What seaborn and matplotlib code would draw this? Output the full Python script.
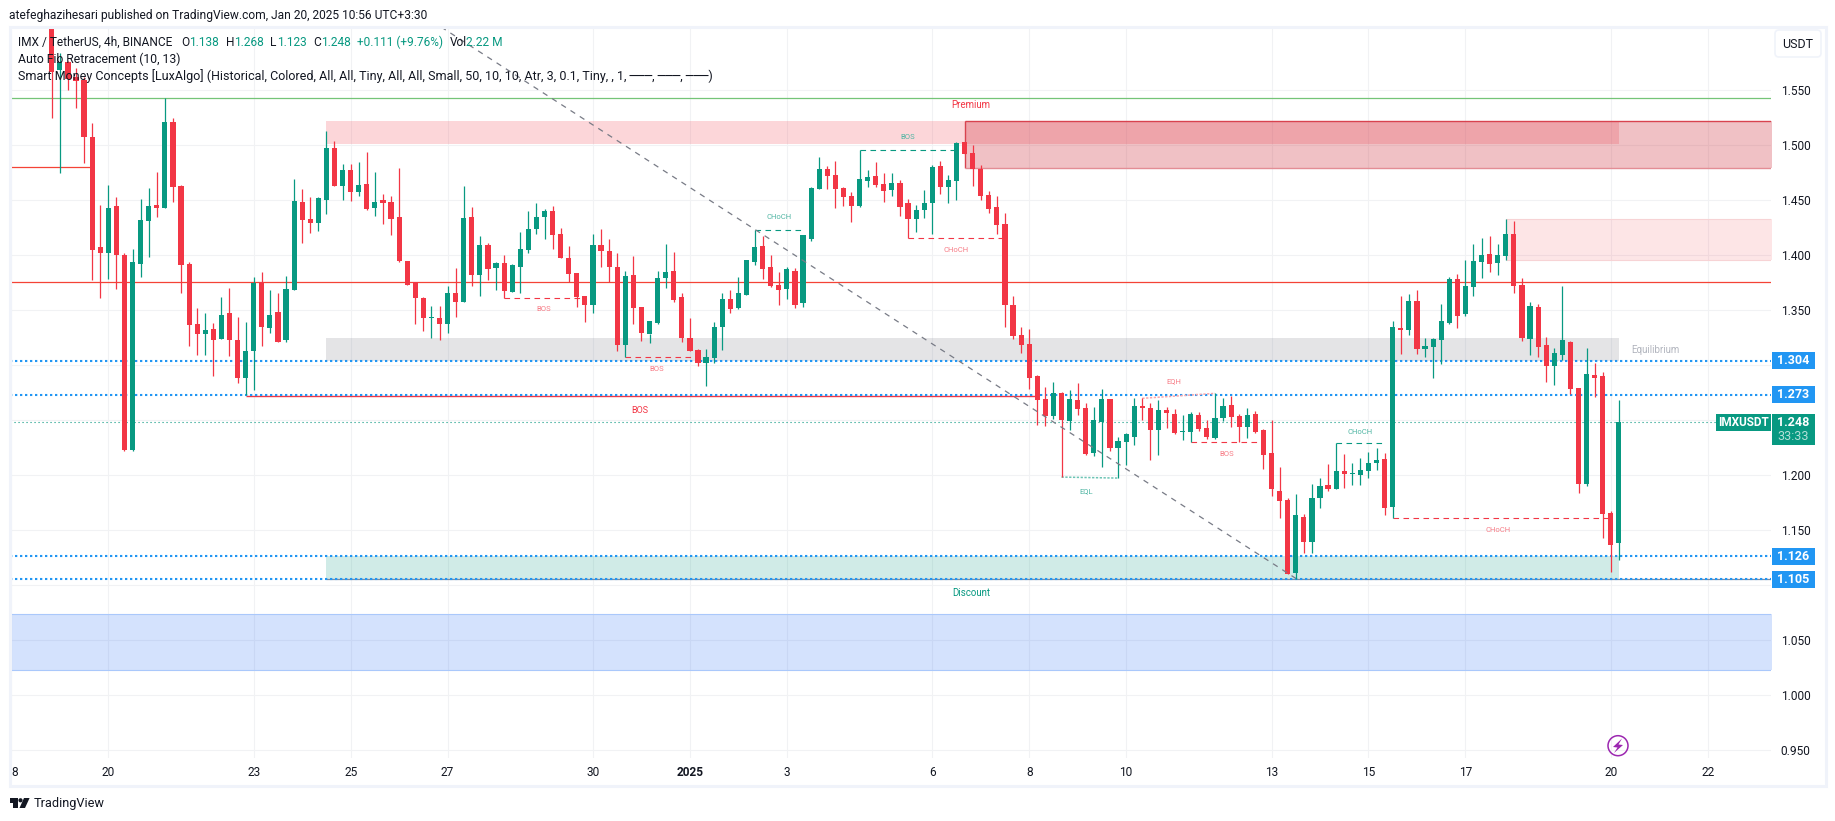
import numpy as np
import pandas as pd
import matplotlib.pyplot as plt
import seaborn as sns
from matplotlib.patches import Rectangle, Circle, Polygon, FancyBboxPatch
from matplotlib.transforms import IdentityTransform

#%%
# candles, 4h bars counted from Dec 20 00:00
first_bar = -7
open_px = [1.6200,1.5682,1.5752,1.5621,1.5591,1.5073,1.4073,
    1.4018,1.4446,1.3999,1.2227,1.3918,1.4309,1.4455,1.4427,1.5209,1.4627,
    1.3918,1.3373,1.3282,1.3327,1.3236,1.3473,1.3227,1.2882,1.3127,1.3755,
    1.3336,1.3482,1.3227,1.3682,1.4482,1.4327,1.4291,1.4500,1.4973,1.4627,
    1.4773,1.4573,1.4645,1.4427,1.4500,1.4482,1.4345,1.3945,1.3755,1.3609,
    1.3427,1.3427,1.3373,1.3655,1.3573,1.4345,1.3818,1.4091,1.3882,1.3927,
    1.3664,1.3891,1.4045,1.4236,1.4345,1.4400,1.4191,1.3973,1.3836,1.3627,
    1.3545,1.4091,1.4036,1.3891,1.3182,1.3818,1.3527,1.3282,1.3382,1.3791,
    1.3854,1.3618,1.3245,1.3136,1.3018,1.3064,1.3345,1.3600,1.3518,1.3636,
    1.3936,1.4082,1.3891,1.3727,1.3691,1.3854,1.3564,1.4145,1.4600,1.4782,
    1.4727,1.4609,1.4536,1.4445,1.4673,1.4718,1.4645,1.4591,1.4654,1.4473,
    1.4327,1.4409,1.4473,1.4809,1.4618,1.4673,1.5027,1.4927,1.4782,1.4545,
    1.4436,1.4282,1.3546,1.3273,1.3191,1.2900,1.2691,1.2536,1.2745,1.2491,
    1.2682,1.2609,1.2200,1.2482,1.2691,1.2245,1.2300,1.2345,1.2627,1.2609,
    1.2409,1.2591,1.2554,1.2391,1.2391,1.2545,1.2427,1.2336,1.2518,1.2636,
    1.2536,1.2436,1.2554,1.2409,1.2200,1.1854,1.1772,1.1109,1.1618,1.1391,
    1.1791,1.1909,1.1872,1.2036,1.2009,1.2000,1.2036,1.2109,1.2145,1.1709,
    1.3336,1.3318,1.3582,1.3145,1.3164,1.3227,1.3382,1.3782,1.3464,1.3709,
    1.3936,1.4009,1.3927,1.3991,1.4191,1.3727,1.3236,1.3527,1.3182,1.2991,
    1.3091,1.3209,1.2791,1.1918,1.2909,1.2900,1.1655,1.1380]
high_px = [1.6300,1.5833,1.5764,1.5697,1.5621,1.5200,1.4455,
    1.4636,1.4527,1.4018,1.4055,1.4509,1.4609,1.4755,1.5424,1.5246,1.4636,
    1.3936,1.3518,1.3473,1.3382,1.3618,1.3700,1.3436,1.3391,1.3800,1.3845,
    1.3682,1.3655,1.3809,1.4691,1.4600,1.4527,1.4527,1.5127,1.5036,1.4827,
    1.4827,1.4845,1.4936,1.4754,1.4554,1.4536,1.4791,1.3945,1.3755,1.3618,
    1.3536,1.3536,1.3718,1.3882,1.4627,1.4436,1.4173,1.4109,1.3936,1.4000,
    1.3918,1.4209,1.4400,1.4473,1.4418,1.4445,1.4245,1.4082,1.3836,1.3627,
    1.4191,1.4236,1.4145,1.4018,1.3855,1.3991,1.3527,1.3282,1.3855,1.4100,
    1.4027,1.3654,1.3427,1.3145,1.3145,1.3391,1.3654,1.3682,1.3800,1.3955,
    1.4227,1.4173,1.4000,1.3845,1.3891,1.3882,1.4182,1.4618,1.4891,1.4809,
    1.4855,1.4618,1.4573,1.4954,1.4773,1.4845,1.4745,1.4745,1.4682,1.4509,
    1.4454,1.4591,1.4818,1.4855,1.4727,1.5027,1.5027,1.5000,1.4818,1.4582,
    1.4536,1.4382,1.3628,1.3346,1.3327,1.2909,1.2800,1.2845,1.2754,1.2773,
    1.2836,1.2654,1.2618,1.2781,1.2691,1.2345,1.2381,1.2700,1.2700,1.2654,
    1.2682,1.2618,1.2600,1.2545,1.2572,1.2572,1.2500,1.2745,1.2700,1.2718,
    1.2554,1.2609,1.2582,1.2418,1.2500,1.2072,1.1791,1.1827,1.1645,1.1918,
    1.1972,1.2100,1.2288,1.2191,1.2109,1.2154,1.2209,1.2245,1.2200,1.3400,
    1.3627,1.3645,1.3682,1.3245,1.3245,1.3555,1.3800,1.3827,1.3955,1.4100,
    1.4155,1.4173,1.4100,1.4327,1.4309,1.3791,1.3573,1.3555,1.3255,1.3155,
    1.3718,1.3218,1.2791,1.3155,1.3018,1.2936,1.1673,1.2680]
low_px = [1.5248,1.4748,1.5500,1.5339,1.4839,1.3773,1.3609,
    1.3782,1.3691,1.2218,1.2218,1.3800,1.3982,1.4346,1.4427,1.4482,1.3655,
    1.3173,1.3091,1.3091,1.2900,1.3236,1.3082,1.2836,1.2727,1.2773,1.3173,
    1.3291,1.3209,1.3209,1.3682,1.4109,1.4200,1.4218,1.4373,1.4627,1.4500,
    1.4491,1.4536,1.4409,1.4354,1.4282,1.4182,1.3936,1.3727,1.3373,1.3309,
    1.3245,1.3227,1.3291,1.3436,1.3573,1.3718,1.3627,1.3773,1.3682,1.3612,
    1.3664,1.3654,1.4018,1.4191,1.4145,1.4054,1.3973,1.3754,1.3527,1.3391,
    1.3473,1.3891,1.3754,1.3127,1.3073,1.3373,1.3218,1.3200,1.3373,1.3700,
    1.3573,1.3209,1.3127,1.2991,1.2809,1.3018,1.3136,1.3473,1.3509,1.3636,
    1.3909,1.3782,1.3709,1.3545,1.3600,1.3518,1.3527,1.4127,1.4600,1.4600,
    1.4427,1.4445,1.4300,1.4436,1.4618,1.4618,1.4482,1.4536,1.4354,1.4151,
    1.4209,1.4336,1.4191,1.4554,1.4473,1.4500,1.4918,1.4627,1.4500,1.4382,
    1.4191,1.3346,1.3237,1.3109,1.2781,1.2454,1.2445,1.2509,1.1981,1.2409,
    1.2545,1.2182,1.2172,1.2072,1.2218,1.1972,1.2091,1.2272,1.2500,1.2136,
    1.2182,1.2427,1.2372,1.2318,1.2297,1.2400,1.2327,1.2327,1.2491,1.2436,
    1.2297,1.2336,1.2382,1.2054,1.1809,1.1609,1.1100,1.1051,1.1291,1.1291,
    1.1700,1.1854,1.1872,1.1881,1.1909,1.1909,1.1972,1.2045,1.1636,1.1606,
    1.3100,1.3273,1.3100,1.3073,1.2882,1.3009,1.3373,1.3336,1.3445,1.3627,
    1.3791,1.3845,1.3818,1.3955,1.3655,1.3218,1.3091,1.3073,1.2845,1.2818,
    1.3045,1.2736,1.1836,1.1900,1.2709,1.1427,1.1118,1.1230]
close_px = [1.5666,1.5752,1.5600,1.5585,1.5073,1.4046,1.4018,
    1.4427,1.3999,1.2227,1.3936,1.4318,1.4446,1.4427,1.5209,1.4618,1.3909,
    1.3364,1.3282,1.3318,1.3227,1.3455,1.3227,1.2882,1.3127,1.3746,1.3346,
    1.3455,1.3209,1.3691,1.4491,1.4318,1.4291,1.4518,1.4973,1.4627,1.4773,
    1.4573,1.4636,1.4418,1.4482,1.4473,1.4327,1.3945,1.3727,1.3609,1.3427,
    1.3436,1.3373,1.3655,1.3573,1.4336,1.3818,1.4091,1.3873,1.3927,1.3673,
    1.3909,1.4055,1.4236,1.4345,1.4400,1.4182,1.3973,1.3827,1.3618,1.3545,
    1.4091,1.4036,1.3891,1.3182,1.3809,1.3518,1.3291,1.3400,1.3791,1.3845,
    1.3591,1.3245,1.3127,1.3018,1.3073,1.3345,1.3600,1.3509,1.3654,1.3955,
    1.4073,1.3873,1.3718,1.3682,1.3873,1.3545,1.4182,1.4609,1.4782,1.4718,
    1.4600,1.4527,1.4445,1.4691,1.4709,1.4636,1.4582,1.4654,1.4436,1.4327,
    1.4409,1.4473,1.4800,1.4618,1.4682,1.5018,1.4918,1.4782,1.4536,1.4418,
    1.4273,1.3546,1.3264,1.3182,1.2882,1.2682,1.2536,1.2745,1.2500,1.2691,
    1.2600,1.2191,1.2500,1.2691,1.2245,1.2309,1.2372,1.2627,1.2609,1.2409,
    1.2591,1.2563,1.2381,1.2400,1.2554,1.2418,1.2345,1.2518,1.2627,1.2527,
    1.2436,1.2545,1.2391,1.2182,1.1873,1.1763,1.1100,1.1636,1.1391,1.1791,
    1.1900,1.1872,1.2036,1.2009,1.2018,1.2045,1.2109,1.2136,1.1700,1.3345,
    1.3318,1.3582,1.3145,1.3173,1.3236,1.3400,1.3782,1.3445,1.3718,1.3945,
    1.4000,1.3918,1.4000,1.4191,1.3718,1.3245,1.3536,1.3164,1.2991,1.3109,
    1.3227,1.2782,1.1918,1.2918,1.2882,1.1645,1.1364,1.2480]

# levels across the whole pane
blue_levels = [1.304, 1.273, 1.126, 1.105]
blue_labels = ["1.304", "1.273", "1.126", "1.105"]
last_price = 1.248
green_level = 1.5425
red_level = 1.3752

# zones: first bar, last bar, top, bottom
premium_zone = [27, 187, 1.5218, 1.5012]
equilibrium_zone = [27, 187, 1.3245, 1.3036]
discount_zone = [27, 187, 1.1264, 1.1052]
block_top = [106, 206, 1.5218, 1.4794]
block_mid = [173, 206, 1.4327, 1.3957]
block_low = [-13, 206, 1.0733, 1.0224]

# market structure: first bar, last bar, price
red_breaks = [[49, 59, 1.3612], [64, 73, 1.3070], [99, 111, 1.4151], [134, 143, 1.2297], [159, 186, 1.1606]]
green_breaks = [[80, 86, 1.4224], [93, 105, 1.4951], [152, 158, 1.2288]]
# bar, price, text
red_marks = [[53.9, 1.3506, "BOS"], [67.9, 1.2960, "BOS"], [105, 1.4048, "CHoCH"], [138.5, 1.2187, "BOS"], [172, 1.1497, "CHoCH"], [131.9, 1.2857, "EQH"]]
green_marks = [[83, 1.4342, "CHoCH"], [99, 1.5070, "BOS"], [155, 1.2394, "CHoCH"], [121, 1.1857, "EQL"]]

y_ticks = [0.95, 1.00, 1.05, 1.10, 1.15, 1.20, 1.25, 1.30, 1.35, 1.40, 1.45, 1.50, 1.55]
# the tags cover these three on the price scale
y_labels = ["0.950", "1.000", "1.050", "", "1.150", "1.200", "", "", "1.350", "1.400", "1.450", "1.500", "1.550"]
x_ticks = [-12, 0, 18, 30, 42, 60, 72, 84, 102, 114, 126, 144, 156, 168, 186, 198]
x_labels = ["8", "20", "23", "25", "27", "30", "2025", "3", "6", "8", "10", "13", "15", "17", "20", "22"]

#%%
RED = "#f23645"
GREEN = "#089981"
BLUE = "#2196f3"
INK = "#131722"
EDGE = "#f0f3fa"

sns.set_style("white")
plt.rcParams['font.family'] = ['Roboto', 'DejaVu Sans']
plt.rcParams['lines.solid_capstyle'] = 'butt'

df = pd.DataFrame({"open": open_px, "high": high_px, "low": low_px, "close": close_px})
df["bar"] = np.arange(len(df)) + first_bar
df["side"] = np.where(df["close"] >= df["open"], "up", "down")
wicks = df.melt(id_vars=["bar", "side"], value_vars=["high", "low"], value_name="price")

W, H = 1835, 821
fig = plt.figure(figsize=(W / 100, H / 100), dpi=100)
ax = fig.add_axes([10 / W, 1 - 758 / H, 1761 / W, 731 / H])

sns.lineplot(data=wicks, x="bar", y="price", hue="side", units="bar", estimator=None, sort=False,
             palette={"up": GREEN, "down": RED}, legend=False, linewidth=0.9, zorder=3, ax=ax)
colors = df["side"].map({"up": GREEN, "down": RED})
ax.bar(df["bar"], (df["close"] - df["open"]).abs(), bottom=df[["open", "close"]].min(axis=1),
       width=0.64, color=colors, linewidth=0, zorder=3.1)

# zones
ax.fill_between(premium_zone[:2], premium_zone[3], premium_zone[2], color=RED, alpha=0.2, lw=0, zorder=1)
ax.fill_between(equilibrium_zone[:2], equilibrium_zone[3], equilibrium_zone[2], color="#787b86", alpha=0.2, lw=0, zorder=1)
ax.fill_between(discount_zone[:2], discount_zone[3], discount_zone[2], color=GREEN, alpha=0.19, lw=0, zorder=1)
ax.fill_between(block_top[:2], block_top[3], block_top[2], color="#cf3240", alpha=0.3, lw=0, zorder=1)
ax.fill_between(block_mid[:2], block_mid[3], block_mid[2], color=RED, alpha=0.13, lw=0, zorder=1)
ax.fill_between(block_low[:2], block_low[3], block_low[2], color="#2a6ef5", alpha=0.2, lw=0, zorder=1)

ax.plot([block_top[0], block_top[0]], block_top[2:], color="#d8434f", lw=1, zorder=1.5)
ax.plot(block_top[:2], [block_top[2], block_top[2]], color="#d8434f", lw=1, zorder=1.5)
ax.plot(block_top[:2], [block_top[3], block_top[3]], color="#e38d95", lw=1, zorder=1.5)
ax.plot(block_mid[:2], [block_mid[2], block_mid[2]], color="#f7d3d5", lw=0.8, zorder=1.5)
ax.plot(block_mid[:2], [block_mid[3], block_mid[3]], color="#f7d3d5", lw=0.8, zorder=1.5)
ax.plot(block_low[:2], [block_low[2], block_low[2]], color="#aac8fb", lw=0.8, zorder=1.5)
ax.plot(block_low[:2], [block_low[3], block_low[3]], color="#aac8fb", lw=0.8, zorder=1.5)

# long lines
ax.axhline(green_level, color="#74c477", lw=0.9, zorder=2)
ax.axhline(red_level, color="#f44336", lw=0.9, zorder=2)
ax.plot([-13, -2], [1.4797, 1.4797], color="#f44336", lw=0.9, zorder=2)
ax.plot([27, 206], [1.1052, 1.1052], color="#7d8aa3", lw=0.9, zorder=2)
ax.plot([17, 115], [1.2722, 1.2722], color=RED, lw=1, zorder=2)
for lv in blue_levels:
    ax.axhline(lv, color=BLUE, lw=1.5, linestyle=(0, (1.1, 1.3)), zorder=2.5)
ax.axhline(last_price, color=GREEN, lw=0.8, linestyle=(0, (1, 2.6)), zorder=2.5)

# fib trend line
ax.plot([41.2, 147], [1.6073, 1.1060], color="#787b86", lw=0.9, linestyle=(0, (4.4, 4.4)), zorder=4)

for a, b, p in red_breaks:
    ax.plot([a, b], [p, p], color=RED, lw=0.8, linestyle=(0, (5, 4)), zorder=2.5)
for a, b, p in green_breaks:
    ax.plot([a, b], [p, p], color=GREEN, lw=0.8, linestyle=(0, (5, 4)), zorder=2.5)
ax.plot([128, 137], [1.2697, 1.2742], color="#f9a6ac", lw=1.1, linestyle=(0, (1.5, 1)), zorder=2.5)
ax.plot([118, 125], [1.1981, 1.1972], color="#6cc4b4", lw=1.1, linestyle=(0, (1.5, 1)), zorder=2.5)

for b, p, t in red_marks:
    ax.text(b, p, t, color="#f77c86", fontsize=5.5, ha="center", va="center", zorder=5)
for b, p, t in green_marks:
    ax.text(b, p, t, color="#4fb5a3", fontsize=5.5, ha="center", va="center", zorder=5)
ax.text(65.8, 1.2582, "BOS", color=RED, fontsize=6.5, ha="center", va="center", zorder=5)
ax.text(106.8, 1.5364, "Premium", color=RED, fontsize=7, ha="center", va="center", zorder=5)
ax.text(106.8, 1.0927, "Discount", color=GREEN, fontsize=7, ha="center", va="center", zorder=5)
ax.text(191.5, 1.3139, "Equilibrium", color="#b2b5be", fontsize=7, ha="center", va="center", zorder=5)

# axes
ax.set_xlim(-12.17, 205.83)
ax.set_ylim(0.9427, 1.6073)
ax.yaxis.tick_right()
ax.set_yticks(y_ticks, y_labels)
ax.set_xticks(x_ticks, x_labels)
ax.tick_params(axis="y", length=0, pad=7, labelsize=8.6, labelcolor=INK)
ax.tick_params(axis="x", length=0, pad=6, labelsize=8.6, labelcolor=INK)
ax.set_xlabel("")
ax.set_ylabel("")
ax.get_xticklabels()[0].set_ha("left")
ax.get_xticklabels()[6].set_fontweight("bold")
ax.grid(True, color="#f1f2f4", lw=0.8)
ax.set_axisbelow(True)
sns.despine(ax=ax, left=True, right=True, top=True, bottom=True)

# price scale tags
tag_w = 43 / 1761
tag_h = 17 / 1100
tr = ax.get_yaxis_transform()
for lv, s in zip(blue_levels, blue_labels):
    ax.add_patch(Rectangle((1.0006, lv - tag_h / 2), tag_w, tag_h, transform=tr, color=BLUE, lw=0, clip_on=False, zorder=8))
    ax.text(1.0006 + tag_w / 2, lv, s, transform=tr, color="white", fontsize=9, fontweight="bold", ha="center", va="center", zorder=9)
ax.add_patch(Rectangle((1.0006, 1.2276), tag_w, 1.2555 - 1.2276, transform=tr, color=GREEN, lw=0, clip_on=False, zorder=8))
ax.text(1.0006 + tag_w / 2, 1.2480, "1.248", transform=tr, color="white", fontsize=9, fontweight="bold", ha="center", va="center", zorder=9)
ax.text(1.0006 + tag_w / 2, 1.2352, "33:33", transform=tr, color="#b5e0d8", fontsize=9, ha="center", va="center", zorder=9)
ax.add_patch(Rectangle((0.9688, 1.2403), 0.0312, 1.2555 - 1.2403, transform=tr, color=GREEN, lw=0, clip_on=False, zorder=8))
ax.text(0.9844, 1.2479, "IMXUSDT", transform=tr, color="white", fontsize=8.5, fontweight="bold", ha="center", va="center", zorder=9)

#%%
# everything around the pane, placed in pixels from the top left
def fx(px):
    return px / W
def fy(py):
    return 1 - py / H

px_tr = IdentityTransform()
fig.add_artist(Rectangle((10, H - 786), 1815.5, 759.5, fill=False, ec=EDGE, lw=2.2, transform=px_tr))
fig.add_artist(FancyBboxPatch((1775, H - 57), 46, 27, boxstyle="round,pad=0,rounding_size=4",
                              fc="white", ec=EDGE, lw=1.2, transform=px_tr))
fig.text(fx(1798), fy(44), "USDT", color=INK, fontsize=9, ha="center", va="center")

fig.text(fx(9), fy(15), "atefeghazihesari published on TradingView.com, Jan 20, 2025 10:56 UTC+3:30",
         color=INK, fontsize=8.65, va="center")

legend_1 = [[18, "IMX / TetherUS, 4h, BINANCE", INK], [181, "O", INK], [189, "1.138", GREEN], [226, "H", INK],
            [234, "1.268", GREEN], [270, "L", INK], [277, "1.123", GREEN], [313, "C", INK], [321, "1.248", GREEN],
            [357, "+0.111 (+9.76%)", GREEN], [450, "Vol", INK], [466, "2.22 M", GREEN]]
for x, s, c in legend_1:
    fig.text(fx(x), fy(42), s, color=c, fontsize=8.6, va="center")
fig.text(fx(18), fy(59), "Auto Fib Retracement (10, 13)", color=INK, fontsize=8.85, va="center")
fig.text(fx(18), fy(76), "Smart Money Concepts [LuxAlgo] (Historical, Colored, All, All, Tiny, All, All, Small, 50, 10, 10, Atr, 3, 0.1, Tiny, , 1, ───, ───, ───)",
         color=INK, fontsize=9, va="center")

# lightning mark
fig.add_artist(Circle((1618, H - 745.7), 10, fill=False, ec="#9c27b0", lw=1.1, transform=px_tr))
bolt = np.array([[1622, 738.5], [1613, 747], [1617.5, 747.5], [1614, 753], [1623, 745], [1618.5, 744.5]])
fig.add_artist(Polygon(np.c_[bolt[:, 0], H - bolt[:, 1]], fc="#9c27b0", lw=0, transform=px_tr))

# TradingView logo
fig.add_artist(Polygon([[9.5, H - 798], [17.5, H - 798], [17.5, H - 808], [13, H - 808], [13, H - 802.5], [9.5, H - 802.5]],
                       fc=INK, lw=0, transform=px_tr))
fig.add_artist(Circle((20.5, H - 800.3), 2.1, fc=INK, lw=0, transform=px_tr))
fig.add_artist(Polygon([[24, H - 798], [29.6, H - 798], [25, H - 808], [19.5, H - 808]], fc=INK, lw=0, transform=px_tr))
fig.text(fx(34), fy(803), "TradingView", color=INK, fontsize=9.2, va="center")

fig.savefig("out.png", dpi=100)
